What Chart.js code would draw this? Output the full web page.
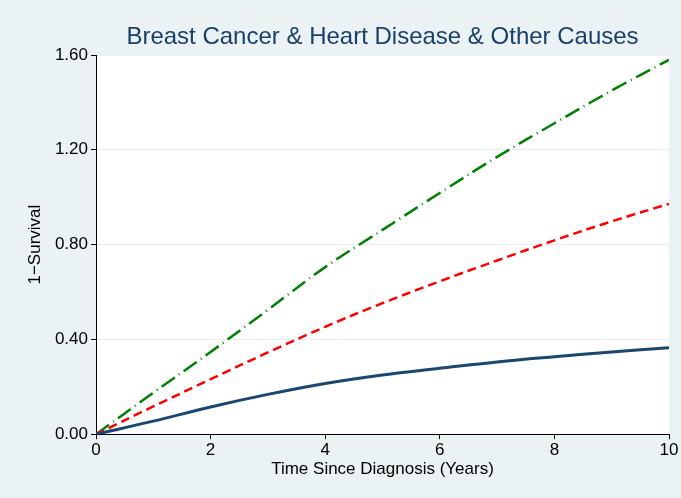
<!DOCTYPE html>
<html>
<head>
<meta charset="utf-8">
<script src="https://cdn.jsdelivr.net/npm/chart.js@4"></script>
<style>
  html, body { margin: 0; padding: 0; background: #eaf2f3; }
  #wrap { width: 681px; height: 498px; }
</style>
</head>
<body>
<div id="wrap"><canvas id="cnv" width="681" height="498"></canvas></div>
<script>
var years = [0, 1, 2, 3, 4, 5, 6, 7, 8, 9, 10];
var breast = [0, 0.055, 0.115, 0.168, 0.214, 0.250, 0.278, 0.305, 0.327, 0.347, 0.365];
var heart = [0, 0.117, 0.232, 0.345, 0.453, 0.553, 0.645, 0.733, 0.818, 0.898, 0.972];
var other = [0, 0.175, 0.347, 0.525, 0.705, 0.862, 1.018, 1.170, 1.312, 1.450, 1.580];
var yTicks = [0, 0.4, 0.8, 1.2, 1.6];
var xTicks = [0, 2, 4, 6, 8, 10];

var toPts = function(arr) {
  var out = [];
  for (let i = 0; i < years.length; i++) out.push({x: years[i], y: arr[i]});
  return out;
};

var bgPlugin = {
  id: 'bg',
  beforeDraw: function(chart) {
    var c = chart.ctx, a = chart.chartArea;
    c.save();
    c.fillStyle = '#eaf2f3';
    c.fillRect(0, 0, chart.width, chart.height);
    c.fillStyle = '#ffffff';
    c.fillRect(a.left, a.top, a.right - a.left, a.bottom - a.top);
    c.restore();
  },
  afterDraw: function(chart) {
    var c = chart.ctx, a = chart.chartArea;
    c.save();
    c.fillStyle = '#1a3f6b';
    c.font = '24px "Liberation Sans", Arial, sans-serif';
    c.textAlign = 'center';
    c.textBaseline = 'middle';
    c.fillText('Breast Cancer & Heart Disease & Other Causes', (a.left + a.right) / 2, 37);
    c.restore();
  }
};

var font = {family: '"Liberation Sans", Arial, sans-serif', size: 17};

new Chart(document.getElementById('cnv').getContext('2d'), {
  type: 'line',
  data: {
    datasets: [{
      data: toPts(breast),
      borderColor: '#1a476f',
      borderWidth: 3,
      tension: 0.4,
      pointRadius: 0
    }, {
      data: toPts(heart),
      borderColor: '#ff0000',
      borderWidth: 2.5,
      borderDash: [9, 5],
      tension: 0.4,
      pointRadius: 0
    }, {
      data: toPts(other),
      borderColor: '#008000',
      borderWidth: 2.5,
      borderDash: [16, 5, 1, 5],
      tension: 0.4,
      pointRadius: 0
    }]
  },
  options: {
    responsive: false,
    animation: false,
    layout: {padding: {left: 0, right: 12, top: 55, bottom: 18}},
    plugins: {
      legend: {display: false},
      tooltip: {enabled: false},
      title: {display: false}
    },
    scales: {
      x: {
        type: 'linear',
        min: 0, max: 10,
        afterBuildTicks: function(s) { s.ticks = xTicks.map(function(v) { return {value: v}; }); },
        ticks: {color: '#000', font: font, padding: 1},
        grid: {drawOnChartArea: false, drawTicks: true, tickLength: 5, tickColor: '#000'},
        border: {display: true, color: '#000', width: 1},
        title: {display: true, text: 'Time Since Diagnosis (Years)', color: '#000', font: font, padding: {top: -2, bottom: 0}}
      },
      y: {
        min: 0, max: 1.6,
        afterBuildTicks: function(s) { s.ticks = yTicks.map(function(v) { return {value: v}; }); },
        afterFit: function(s) { s.width = 96; },
        ticks: {color: '#000', font: font, padding: 3, callback: function(v) { return v.toFixed(2); }},
        grid: {color: '#e6eef0', lineWidth: 1, drawTicks: true, tickLength: 5, tickColor: '#000'},
        border: {display: true, color: '#000', width: 1},
        title: {display: true, text: '1\u2212Survival', color: '#000', font: font, padding: {top: 25, bottom: 0}}
      }
    }
  },
  plugins: [bgPlugin]
});
</script>
</body>
</html>
